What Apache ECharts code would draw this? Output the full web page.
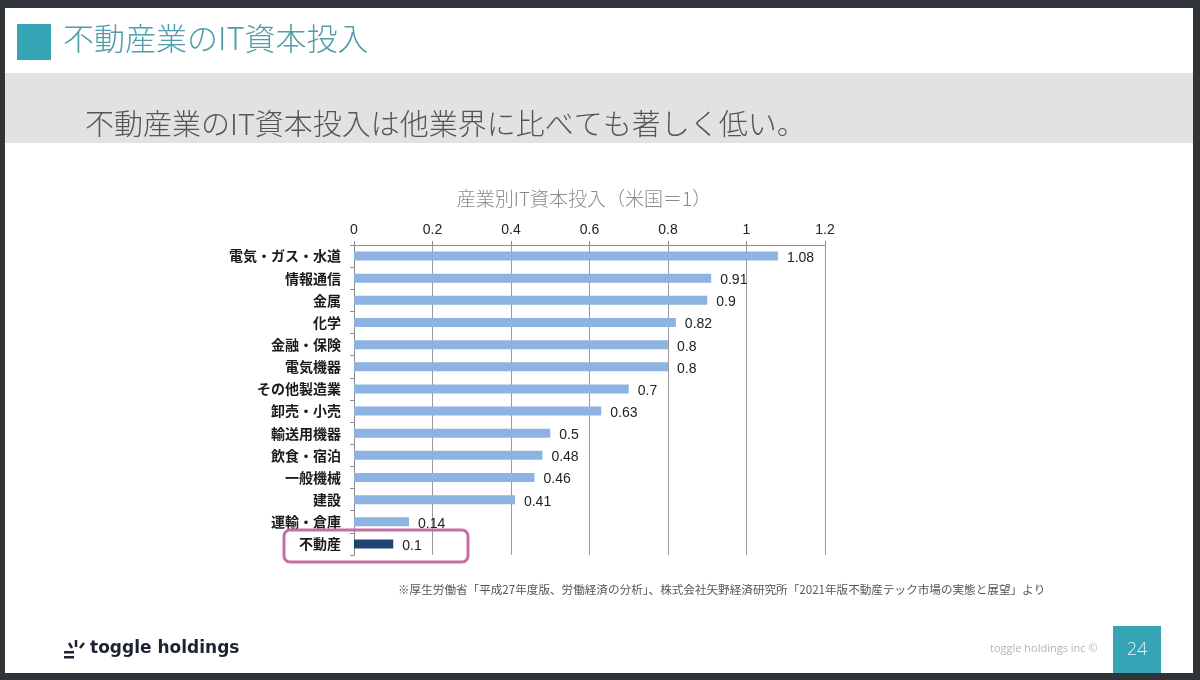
<!DOCTYPE html>
<html>
<head>
<meta charset="utf-8">
<script src="https://cdn.jsdelivr.net/npm/echarts@6/dist/echarts.min.js"></script>
<style>
  html, body { margin: 0; padding: 0; background: #303438; }
  #chart { width: 1200px; height: 680px; }
</style>
</head>
<body>
<div id="chart"></div>
<script>
  // 産業別IT資本投入（米国＝1）
  const industries = [
    '電気・ガス・水道', '情報通信', '金属', '化学', '金融・保険', '電気機器', 'その他製造業',
    '卸売・小売', '輸送用機器', '飲食・宿泊', '一般機械', '建設', '運輸・倉庫', '不動産',
  ];
  const itInvest = [1.08, 0.91, 0.9, 0.82, 0.8, 0.8, 0.7, 0.63, 0.5, 0.48, 0.46, 0.41, 0.14, 0.1];
  const highlight = '不動産';

  const JP = "'Noto Sans CJK JP', 'Noto Sans', sans-serif";
  const NUM = "'Liberation Sans', Arial, sans-serif";
  const TEAL = '#35a4b4';

  const chart = echarts.init(document.getElementById('chart'), null, { renderer: 'canvas' });

  chart.setOption({
    backgroundColor: '#303438',
    animation: false,
    title: {
      text: '産業別IT資本投入（米国＝1）',
      left: 579,
      top: 184,
      textAlign: 'center',
      textStyle: { fontFamily: JP, fontSize: 19, fontWeight: 300, color: '#8a8a8a' },
    },
    grid: { left: 354, right: 375, top: 245, height: 310 },
    xAxis: {
      type: 'value',
      position: 'top',
      min: 0,
      max: 1.2,
      interval: 0.2,
      axisLine: { show: true, lineStyle: { color: '#8c8c8c' } },
      axisTick: { show: true, length: 4, lineStyle: { color: '#8c8c8c' } },
      axisLabel: {
        color: '#222', fontSize: 14, fontFamily: NUM, margin: 8,
        formatter: (v) => String(Math.round(v * 10) / 10),
      },
      splitLine: { show: true, lineStyle: { color: '#9a9a9a', width: 1 } },
    },
    yAxis: {
      type: 'category',
      data: industries,
      inverse: true,
      axisLine: { show: true, lineStyle: { color: '#8c8c8c' } },
      axisTick: { show: true, length: 4, lineStyle: { color: '#8c8c8c' } },
      axisLabel: { color: '#1a1a1a', fontSize: 14, fontWeight: 'bold', fontFamily: JP, margin: 13 },
    },
    series: [{
      type: 'bar',
      barWidth: 9,
      data: itInvest.map((v, i) => ({
        value: v,
        itemStyle: { color: industries[i] === highlight ? '#1f4474' : '#8db3e2' },
      })),
      label: {
        show: true,
        position: 'right',
        distance: 9,
        offset: [0, 2],
        color: '#222',
        fontSize: 14,
        fontFamily: NUM,
      },
    }],
    graphic: [
      // slide background
      { type: 'rect', shape: { x: 5, y: 8, width: 1188, height: 665 }, style: { fill: '#ffffff' }, z: -10 },
      // header
      { type: 'rect', shape: { x: 17, y: 24, width: 34, height: 36 }, style: { fill: TEAL } },
      {
        type: 'text', left: 63, top: 23,
        style: { text: '不動産業のIT資本投入', fill: '#4f9ea8', font: `300 31px ${JP}` },
      },
      { type: 'rect', shape: { x: 5, y: 73, width: 1188, height: 70 }, style: { fill: '#e2e2e2' }, z: -5 },
      {
        type: 'text', left: 85, top: 109,
        style: { text: '不動産業のIT資本投入は他業界に比べても著しく低い。', fill: '#555', font: `300 29px ${JP}` },
      },
      // highlight frame
      {
        type: 'rect', shape: { x: 284, y: 530, width: 184, height: 32, r: 6 },
        style: { fill: 'none', stroke: '#c36e9f', lineWidth: 3 }, z: 10,
      },
      // source note
      {
        type: 'text', left: 398, top: 584,
        style: {
          text: '※厚生労働省「平成27年度版、労働経済の分析」、株式会社矢野経済研究所「2021年版不動産テック市場の実態と展望」より',
          fill: '#555', font: `11.6px ${JP}`,
        },
      },
      // logo
      { type: 'rect', shape: { x: 64, y: 651, width: 10, height: 2.5 }, style: { fill: '#1c2333' } },
      { type: 'rect', shape: { x: 64, y: 656, width: 10, height: 2.5 }, style: { fill: '#1c2333' } },
      { type: 'line', shape: { x1: 69, y1: 643, x2: 72, y2: 648 }, style: { stroke: '#1c2333', lineWidth: 2.5 } },
      { type: 'line', shape: { x1: 76, y1: 640, x2: 76, y2: 647 }, style: { stroke: '#1c2333', lineWidth: 2.5 } },
      { type: 'line', shape: { x1: 84, y1: 643, x2: 80, y2: 648 }, style: { stroke: '#1c2333', lineWidth: 2.5 } },
      {
        type: 'text', left: 90, top: 640,
        style: { text: 'toggle holdings', fill: '#1c2333', font: "bold 17px 'DejaVu Sans', sans-serif" },
      },
      // footer right
      {
        type: 'text', left: 990, top: 643,
        style: { text: 'toggle holdings inc ©', fill: '#b4b4b4', font: "11px 'Open Sans', sans-serif" },
      },
      { type: 'rect', shape: { x: 1113, y: 626, width: 48, height: 47 }, style: { fill: TEAL } },
      {
        type: 'text',
        style: {
          x: 1137, y: 650, text: '24', fill: '#e6f4f6',
          font: "300 18px 'Open Sans', sans-serif", textAlign: 'center', textVerticalAlign: 'middle',
        },
      },
    ],
  });
</script>
</body>
</html>
